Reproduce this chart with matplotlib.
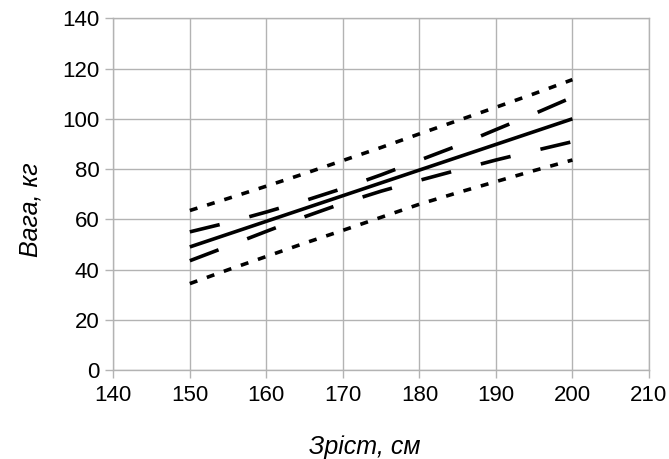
import numpy as np
import matplotlib
matplotlib.use('Agg')
import matplotlib.pyplot as plt

# values
height = [150, 155, 160, 165, 170, 175, 180, 185, 190, 195, 200]
fit = [49.0, 54.1, 59.2, 64.3, 69.4, 74.5, 79.6, 84.7, 89.8, 94.9, 100.0]
conf_hi = [55.0, 58.7, 62.9, 67.4, 72.3, 77.7, 83.5, 89.3, 95.7, 102.0, 108.6]
conf_lo = [43.5, 49.3, 55.2, 61.0, 66.4, 71.2, 75.5, 79.6, 83.6, 87.3, 90.9]
pred_hi = [63.5, 68.3, 73.2, 78.2, 83.4, 88.6, 94.0, 99.3, 104.6, 110.0, 115.6]
pred_lo = [34.4, 39.9, 45.2, 50.5, 55.6, 60.8, 66.0, 70.6, 75.0, 79.4, 83.6]

xticks = [140, 150, 160, 170, 180, 190, 200, 210]
yticks = [0, 20, 40, 60, 80, 100, 120, 140]

plt.rcParams['font.family'] = ['Liberation Sans', 'DejaVu Sans']

fig = plt.figure(figsize=(6.69, 4.59), dpi=100)
ax = fig.add_axes([0.1694, 0.1939, 0.970 - 0.1694, 0.960 - 0.1939])

grey = '#b3b3b3'
lw = 2.6
ax.plot(height, fit, color='black', lw=lw, solid_capstyle='butt')
ax.plot(height, conf_hi, color='black', lw=lw, linestyle=(0, (8.5, 8.5)))
ax.plot(height, conf_lo, color='black', lw=lw, linestyle=(0, (8.5, 8.5)))
ax.plot(height, pred_hi, color='black', lw=lw, linestyle=(0, (2.2, 2.8)))
ax.plot(height, pred_lo, color='black', lw=lw, linestyle=(0, (2.2, 2.8)))

ax.set_xlim(140, 210)
ax.set_ylim(0, 140)
ax.set_xticks(xticks)
ax.set_yticks(yticks)
ax.grid(True, color=grey, lw=1)
ax.set_axisbelow(True)
for s in ax.spines.values():
    s.set_color(grey)
    s.set_linewidth(1)
ax.tick_params(colors=grey, labelcolor='black', labelsize=16, length=6,
               width=1, direction='out')
ax.tick_params(axis='x', pad=5)
ax.tick_params(axis='y', pad=4)

ax.set_xlabel('Зріст, см', fontsize=18, style='italic', labelpad=21, x=0.47)
ax.set_ylabel('Вага, кг', fontsize=18, style='italic', labelpad=14, y=0.455)

fig.savefig('out.png', dpi=100)
